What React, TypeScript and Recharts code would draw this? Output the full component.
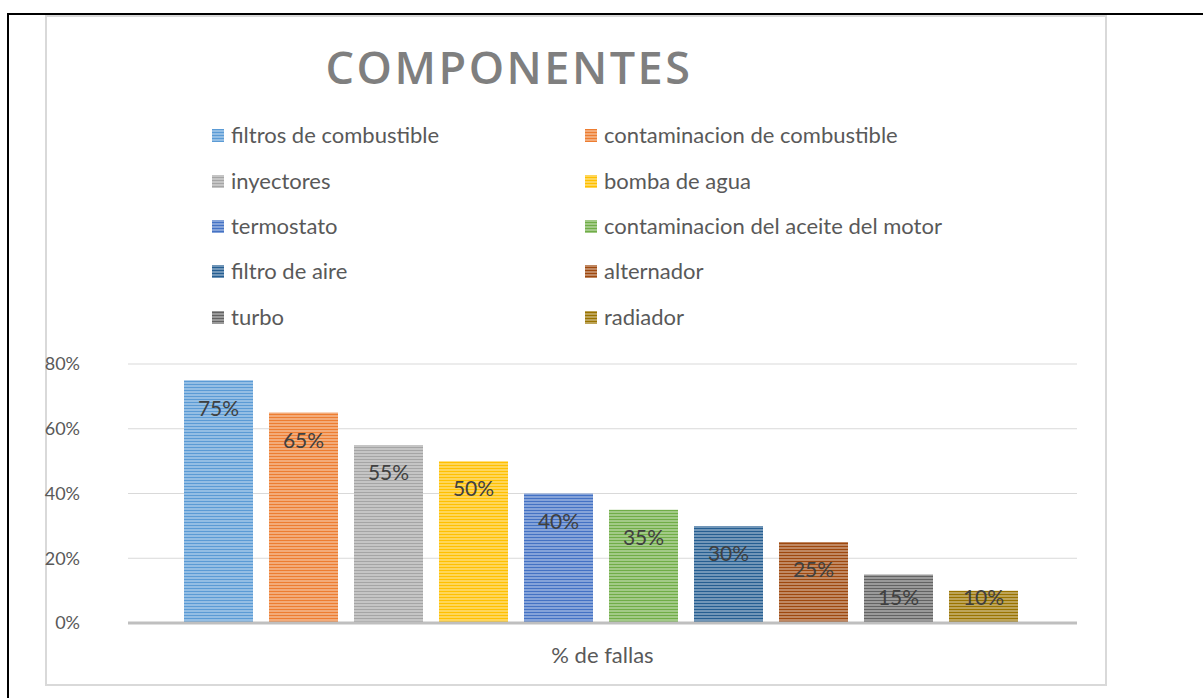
import React from 'react'
import { BarChart, Bar, XAxis, YAxis, CartesianGrid } from 'recharts'

const categories = [
  'filtros de combustible',
  'contaminacion de combustible',
  'inyectores',
  'bomba de agua',
  'termostato',
  'contaminacion del aceite del motor',
  'filtro de aire',
  'alternador',
  'turbo',
  'radiador',
]
const values = [0.75, 0.65, 0.55, 0.5, 0.4, 0.35, 0.3, 0.25, 0.15, 0.1]
const colors = [
  '#5B9BD5', '#ED7D31', '#A5A5A5', '#FFC000', '#4472C4',
  '#70AD47', '#255E91', '#9E480E', '#636363', '#997300',
]
const yTicks = [0, 0.2, 0.4, 0.6, 0.8]
const groupLabel = '% de fallas'
const title = 'COMPONENTES'

const FONT = 'Lato, "Open Sans", sans-serif'

const data = [
  categories.reduce<Record<string, string | number>>(
    (row, _c, i) => {
      row[`s${i}`] = values[i]
      return row
    },
    { name: groupLabel }
  ),
]

// mix a hex colour with white
function tint(hex: string, amt: number) {
  const n = parseInt(hex.slice(1), 16)
  const ch = [(n >> 16) & 255, (n >> 8) & 255, n & 255].map((c) =>
    Math.round(c + (255 - c) * amt)
  )
  return `rgb(${ch.join(',')})`
}

const pct = (v: number) => `${Math.round(v * 100)}%`

const renderLabel = (props: any) => {
  const { x, y, width, height, value } = props
  const cy = Math.min(y + 28, y + height - 25)
  return (
    <text
      x={x + width / 2}
      y={cy}
      dy="0.35em"
      textAnchor="middle"
      fill="#404040"
      fontSize={21}
      fontFamily={FONT}
    >
      {pct(value)}
    </text>
  )
}

const legendRows = [135, 181, 226, 271, 317]
const legendCols = [212, 585]

export default function App() {
  return (
    <div style={{ position: 'absolute', left: 0, top: 0, width: 1203, height: 698, overflow: 'hidden', background: '#fff' }}>
      <div style={{ position: 'absolute', left: 7, top: 13, width: 1220, height: 720, border: '2px solid #000' }} />
      <div style={{ position: 'absolute', left: 45, top: 15, width: 1058, height: 667, border: '2px solid #D9D9D9' }} />

      <svg width={1203} height={698} style={{ position: 'absolute', left: 0, top: 0 }}>
        <defs>
          {colors.map((c, i) => (
            <pattern key={i} id={`pat${i}`} width={6} height={3} patternUnits="userSpaceOnUse">
              <rect width={6} height={3} fill={tint(c, 0.35)} />
              <rect width={6} height={1} fill={c} />
            </pattern>
          ))}
        </defs>
        <text
          x={509}
          y={84}
          textAnchor="middle"
          fill="#7F7F7F"
          fontSize={45}
          fontWeight={600}
          letterSpacing={2.5}
          fontFamily='"Open Sans", sans-serif'
        >
          {title}
        </text>
        {categories.map((c, i) => {
          const x = legendCols[i % 2]
          const y = legendRows[Math.floor(i / 2)]
          return (
            <g key={c}>
              <rect x={x} y={y - 6} width={12} height={13} fill={`url(#pat${i})`} />
              <text x={x + 19} y={y} dy="0.35em" fill="#595959" fontSize={22} fontFamily={FONT}>
                {c}
              </text>
            </g>
          )
        })}
      </svg>

      <div style={{ position: 'absolute', left: 0, top: 0 }}>
        <BarChart
          width={1203}
          height={698}
          data={data}
          margin={{ top: 364, right: 126, bottom: 35, left: 48 }}
          barCategoryGap={56}
          barGap={16}
        >
          <CartesianGrid vertical={false} stroke="#D9D9D9" />
          <XAxis
            dataKey="name"
            height={40}
            axisLine={{ stroke: '#BFBFBF', strokeWidth: 3 }}
            tickLine={false}
            tickSize={0}
            tickMargin={24}
            tick={{ fontSize: 22, fill: '#595959', fontFamily: FONT }}
          />
          <YAxis
            width={80}
            domain={[0, 0.8]}
            ticks={yTicks}
            tickFormatter={pct}
            axisLine={false}
            tickLine={false}
            tickSize={0}
            tickMargin={48}
            tick={{ fontSize: 18, fill: '#595959', fontFamily: FONT }}
          />
          {categories.map((c, i) => (
            <Bar
              key={c}
              dataKey={`s${i}`}
              name={c}
              fill={`url(#pat${i})`}
              isAnimationActive={false}
              label={renderLabel}
            />
          ))}
        </BarChart>
      </div>
    </div>
  )
}
